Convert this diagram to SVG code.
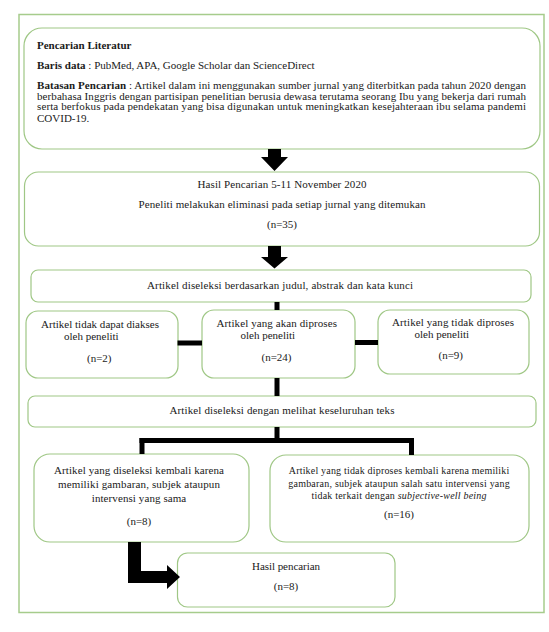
<svg xmlns="http://www.w3.org/2000/svg" width="549" height="632" viewBox="0 0 549 632">
<style>
.frame{fill:#ffffff;stroke:#a6cc8c;stroke-width:1.5}
.box{fill:#ffffff;stroke:#9fc785;stroke-width:1.2}
text{font-family:'Liberation Serif','Times New Roman',Times,serif;font-size:11px;fill:#1a1a1a}
.s{font-size:10px}
.c{text-anchor:middle}
.b{font-weight:bold}
.i{font-style:italic}
.conn line{stroke:#000000;stroke-width:5}
.arrow{fill:#000000}
</style>
<rect width="549" height="632" fill="#ffffff"/>
<rect class="frame" x="19" y="14.5" width="525" height="598"/>

<g id="n1" font-family="Liberation Serif, serif">
<rect class="box" x="24" y="28" width="516" height="121" rx="18"/>
<text class="b" x="37" y="49">Pencarian Literatur</text>
<text x="37" y="69"><tspan class="b">Baris data</tspan> : PubMed, APA, Google Scholar dan ScienceDirect</text>
<text x="37" y="89" textLength="489" lengthAdjust="spacing"><tspan class="b">Batasan Pencarian</tspan> : Artikel dalam ini menggunakan sumber jurnal yang diterbitkan pada tahun 2020 dengan</text>
<text x="37" y="99.5" textLength="489" lengthAdjust="spacing">berbahasa Inggris dengan partisipan penelitian berusia dewasa terutama seorang Ibu yang bekerja dari rumah</text>
<text x="37" y="110" textLength="489" lengthAdjust="spacing">serta berfokus pada pendekatan yang bisa digunakan untuk meningkatkan kesejahteraan ibu selama pandemi</text>
<text x="37" y="122">COVID-19.</text>
</g>

<g id="n2">
<rect class="box" x="24.5" y="172" width="515" height="74" rx="14"/>
<text class="c" x="282" y="188" textLength="169" lengthAdjust="spacing">Hasil Pencarian 5-11 November 2020</text>
<text class="c" x="282" y="208" textLength="287" lengthAdjust="spacing">Peneliti melakukan eliminasi pada setiap jurnal yang ditemukan</text>
<text class="c" x="282" y="228">(n=35)</text>
</g>

<g id="n3">
<rect class="box" x="31" y="270" width="500" height="32" rx="7"/>
<text class="c" x="280" y="289" textLength="266" lengthAdjust="spacing">Artikel diseleksi berdasarkan judul, abstrak dan kata kunci</text>
</g>

<g id="nL">
<rect class="box" x="26" y="311" width="152" height="67" rx="12"/>
<text x="41" y="328" textLength="118" lengthAdjust="spacing">Artikel tidak dapat diakses</text>
<text x="64" y="339.5">oleh peneliti</text>
<text x="87" y="362">(n=2)</text>
</g>

<g id="nM">
<rect class="box" x="202" y="310" width="153" height="68" rx="12"/>
<text x="216.5" y="327" textLength="120.5" lengthAdjust="spacing">Artikel yang akan diproses</text>
<text x="240.5" y="339">oleh peneliti</text>
<text x="261.5" y="361">(n=24)</text>
</g>

<g id="nR">
<rect class="box" x="378" y="310" width="151" height="64" rx="12"/>
<text x="392" y="326" textLength="122" lengthAdjust="spacing">Artikel yang tidak diproses</text>
<text x="414.5" y="337.5">oleh peneliti</text>
<text x="438.5" y="359">(n=9)</text>
</g>

<g id="n4">
<rect class="box" x="28" y="396" width="508" height="31" rx="7"/>
<text class="c" x="282" y="413.5" textLength="225" lengthAdjust="spacing">Artikel diseleksi dengan melihat keseluruhan teks</text>
</g>

<g id="n5">
<rect class="box" x="34" y="454" width="215" height="88" rx="16"/>
<text class="c" x="139" y="474" textLength="170" lengthAdjust="spacing">Artikel yang diseleksi kembali karena</text>
<text class="c" x="139" y="488" textLength="162" lengthAdjust="spacing">memiliki gambaran, subjek ataupun</text>
<text class="c" x="139" y="502" textLength="94.5" lengthAdjust="spacing">intervensi yang sama</text>
<text class="c" x="139" y="525">(n=8)</text>
</g>

<g id="n6">
<rect class="box" x="270" y="455" width="259" height="87" rx="16"/>
<text class="s c" x="399" y="474" textLength="220.5" lengthAdjust="spacing">Artikel yang tidak diproses kembali karena memiliki</text>
<text class="s c" x="399" y="486.5" textLength="221.5" lengthAdjust="spacing">gambaran, subjek ataupun salah satu intervensi yang</text>
<text class="s c" x="399" y="498.5" textLength="175" lengthAdjust="spacing">tidak terkait dengan <tspan class="i">subjective-well being</tspan></text>
<text class="c" x="399" y="518">(n=16)</text>
</g>

<g id="n7">
<rect class="box" x="177.5" y="553" width="217.5" height="54" rx="10"/>
<text class="c" x="286" y="569.5" textLength="68" lengthAdjust="spacing">Hasil pencarian</text>
<text class="c" x="286" y="590">(n=8)</text>
</g>

<g id="connectors">
<polygon class="arrow" points="268,149 281,149 281,157 288,157 274.5,171 261,157 268,157"/>
<polygon class="arrow" points="268,246 281,246 281,257 288,257 274.5,268.5 261,257 268,257"/>
<g class="conn">
<line x1="277" y1="302" x2="277" y2="310"/>
<line x1="177.5" y1="343" x2="202" y2="343"/>
<line x1="355" y1="342.5" x2="378" y2="342.5"/>
<line x1="277" y1="378" x2="277" y2="396"/>
<line x1="277" y1="427" x2="277" y2="443"/>
<line x1="139.5" y1="440.5" x2="414" y2="440.5"/>
<line x1="142" y1="438" x2="142" y2="454"/>
<line x1="411.5" y1="438" x2="411.5" y2="455"/>
</g>
<polygon class="arrow" points="128,542 141,542 141,571 167,571 167,565 180,577 167,589 167,583 128,583"/>
</g>
</svg>
